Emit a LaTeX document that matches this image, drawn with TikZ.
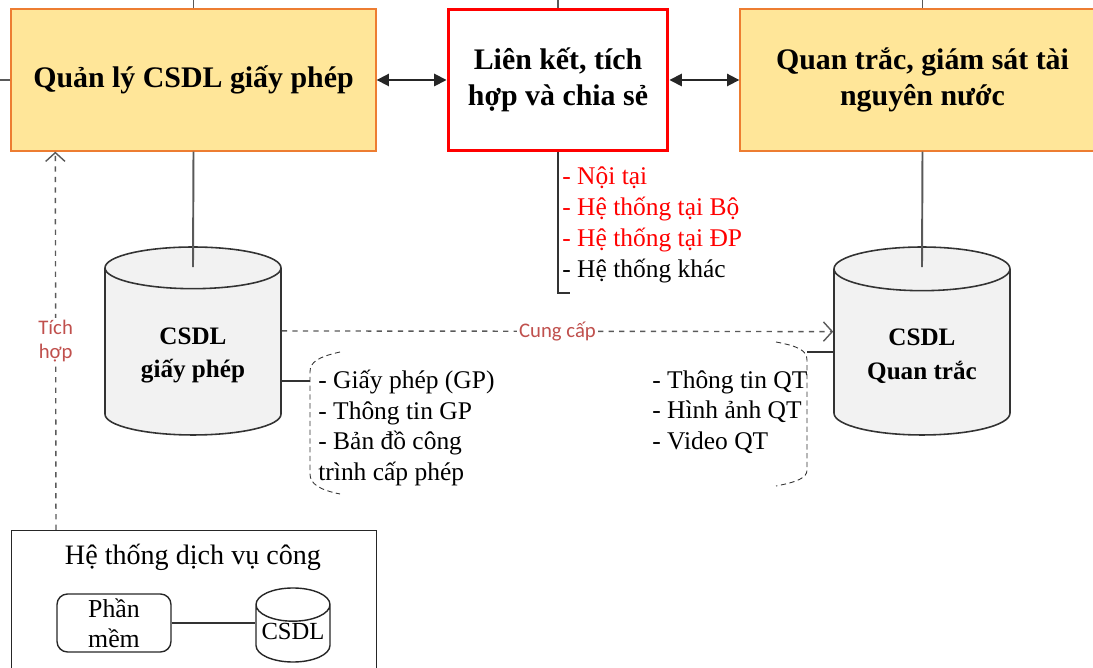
\documentclass[tikz,border=0pt]{standalone}
\usepackage{fontspec}
\setmainfont{Liberation Serif}
\newfontfamily\labelfont{Carlito}
\usetikzlibrary{shapes.geometric,arrows.meta,calc}
\definecolor{boxfill}{RGB}{255,230,153}
\definecolor{boxline}{RGB}{237,125,49}
\definecolor{dbfill}{RGB}{242,242,242}
\definecolor{linegray}{RGB}{89,89,89}
\definecolor{labelred}{RGB}{192,80,77}

\begin{document}
\begin{tikzpicture}[x=0.02cm,y=-0.02cm]
\tikzset{
    mainbox/.style={draw=boxline,fill=boxfill,line width=0.8pt,minimum width=7.3cm,minimum height=2.84cm,align=center,font=\fontsize{17}{20.5}\selectfont\bfseries},
    linkbox/.style={draw=red,line width=1.7pt,fill=white,minimum width=4.4cm,minimum height=2.84cm,align=center,font=\fontsize{17}{20.5}\selectfont\bfseries},
    db/.style={cylinder,shape border rotate=90,anchor=shape center,draw=black!80,fill=dbfill,line width=0.9pt,aspect=0.36,minimum width=3.52cm,minimum height=3.76cm,align=center,font=\fontsize{14.3}{19}\selectfont\bfseries},
    itemlist/.style={align=left,inner sep=0pt,anchor=west,font=\fontsize{14.5}{17.5}\selectfont},
    conn/.style={draw=linegray,line width=1.1pt},
    both/.style={black!85,line width=1pt,{Triangle[length=7pt,width=7pt]}-{Triangle[length=7pt,width=7pt]}},
    flow/.style={dashed,draw=linegray,line width=0.8pt,-{Straight Barb[length=5pt,width=11pt]}},
    flowlabel/.style={fill=white,text=labelred,inner sep=1pt,font=\labelfont\fontsize{11.8}{13.6}\selectfont},
    bracket/.style={black!80,line width=0.5pt,dash pattern=on 3pt off 2pt}
}
\useasboundingbox (0,0) rectangle (1093,668);
\clip (0,0) rectangle (1093,668);
\coordinate (topedge) at (0,0);
% Main blocks
\node[mainbox] (qlbox) at (193.5,80) {Quản lý CSDL giấy phép};
\node[linkbox] (lkbox) at (558,80) {Liên kết, tích\\hợp và chia sẻ};
\node[mainbox] (qtbox) at (922.5,80) {Quan trắc, giám sát tài\\nguyên nước};
\draw[conn] (qlbox.north) -- (qlbox.north |- topedge);
\draw[conn] (lkbox.north) -- (lkbox.north |- topedge);
\draw[conn] (qtbox.north) -- (qtbox.north |- topedge);
\draw[conn] (qlbox.west) -- (qlbox.west -| topedge);
\draw[both] (qlbox.east) -- (lkbox.west);
\draw[both] (lkbox.east) -- (qtbox.west);
% Databases
\node[db] (gpdb) at (193,341) {CSDL\\giấy phép};
\node[db] (qtdb) at (922,341) {CSDL\\Quan trắc};
\draw[conn] (qlbox.south) -- ($(gpdb.top)+(0,21)$);
\draw[conn] (qtbox.south) -- ($(qtdb.top)+(0,21)$);
\draw[flow] ([yshift=14pt]gpdb.east) -- ([yshift=14pt]qtdb.west) node[midway,flowlabel] {Cung cấp};
% Lists
\node[itemlist,text=red] (lklist) at (562,225) {- Nội tại\\- Hệ thống tại Bộ\\- Hệ thống tại ĐP\\\color{black}- Hệ thống khác};
\coordinate (lkend) at (558,293);
\draw[black!80,line width=0.8pt] (lkbox.south) -- (lkend) -- ++(12,0);
\node[itemlist] (gplist) at (318,428) {- Giấy phép (GP)\\- Thông tin GP\\- Bản đồ công\\trình cấp phép};
\coordinate (gpjoin) at (310,381);
\draw[black!80,line width=0.6pt] (gpdb.east |- gpjoin) -- (gpjoin);
\draw[bracket] (340,352) .. controls (318,357) and (310,362) .. (310,372) -- (310,474) .. controls (310,484) and (320,490) .. (340,494);
\node[itemlist] (qtlist) at (652,412) {- Thông tin QT\\- Hình ảnh QT\\- Video QT};
\coordinate (qtjoin) at (807,352);
\draw[black!80,line width=0.6pt] (qtjoin) -- (qtdb.west |- qtjoin);
\draw[bracket] (776,342) .. controls (797,346) and (807,350) .. (807,360) -- (807,470) .. controls (807,478) and (797,482) .. (776,486);
% Public service system
\node[draw=black!85,line width=0.8pt,minimum width=7.3cm,minimum height=3.4cm,anchor=north west] (dvcbox) at (11,530) {};
\node[font=\fontsize{16}{20}\selectfont] (dvctitle) at (193,557) {Hệ thống dịch vụ công};
\node[draw=black!85,line width=0.8pt,rounded corners=6pt,minimum width=2.28cm,minimum height=1.16cm,align=center,inner sep=1pt,font=\fontsize{14.7}{17}\selectfont] (pmbox) at (114,623) {Phần\\mềm};
\node[cylinder,shape border rotate=90,anchor=shape center,draw=black!85,line width=0.8pt,fill=white,aspect=0.5,minimum width=1.48cm,minimum height=1.4cm,inner sep=1pt,font=\fontsize{14}{17}\selectfont] (smalldb) at (293,625) {\raisebox{5pt}{CSDL}};
\draw[black!80,line width=1pt] (pmbox.east) -- (pmbox.east -| smalldb.west);
\draw[flow] ([xshift=0.9cm]dvcbox.north west) -- ([xshift=0.9cm]qlbox.south west) node[midway,flowlabel,align=center] {Tích\\hợp};
\end{tikzpicture}
\end{document}
